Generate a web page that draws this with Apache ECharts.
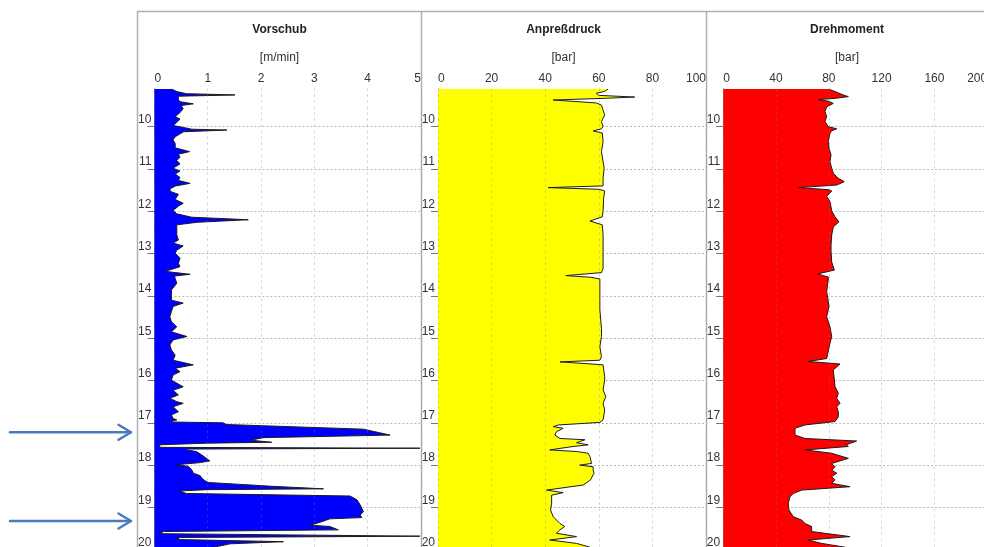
<!DOCTYPE html>
<html>
<head>
<meta charset="utf-8">
<script src="https://cdn.jsdelivr.net/npm/echarts@6/dist/echarts.min.js"></script>
<style>
html, body { margin: 0; padding: 0; background: #fff; overflow: hidden; }
#chart { width: 984px; height: 547px; }
</style>
</head>
<body>
<div id="chart"></div>
<script>
// Depth axis (m), shared by all three logs
const depthTicks = [10, 11, 12, 13, 14, 15, 16, 17, 18, 19, 20];
const depthMin = 9.1;
const depthMax = 20.2;

// Vorschub [m/min]
const vorschubTicks = [0, 1, 2, 3, 4, 5];
const vorschubDepth = [
  9.11, 9.17, 9.22, 9.25, 9.28, 9.36, 9.41, 9.46, 9.50, 9.57, 9.64, 9.70, 9.76, 9.82, 9.90, 9.97,
  10.02, 10.06, 10.08, 10.12, 10.17, 10.24, 10.31, 10.40, 10.50, 10.59, 10.65, 10.72, 10.80, 10.88, 10.98,
  11.05, 11.12, 11.20, 11.27, 11.34, 11.40, 11.47, 11.53, 11.60, 11.72, 11.81, 11.88, 11.98,
  12.06, 12.14, 12.20, 12.26, 12.32, 12.42, 12.56, 12.68, 12.75, 12.82, 12.92, 12.99,
  13.11, 13.23, 13.31, 13.42, 13.49, 13.53, 13.59, 13.70, 13.86, 13.98,
  14.10, 14.17, 14.25, 14.37, 14.49, 14.61, 14.73, 14.85, 14.96,
  15.04, 15.16, 15.28, 15.40, 15.52, 15.63, 15.71, 15.79, 15.87, 15.99,
  16.15, 16.23, 16.34, 16.42, 16.50, 16.54, 16.62, 16.70, 16.74, 16.81, 16.90, 16.93, 16.98,
  17.00, 17.04, 17.15, 17.29, 17.35, 17.41, 17.46, 17.48, 17.52, 17.58, 17.60, 17.62, 17.64, 17.68, 17.76, 17.90, 17.94, 17.99,
  18.03, 18.11, 18.19, 18.25, 18.31, 18.37, 18.41, 18.50, 18.56, 18.58, 18.61, 18.67, 18.73, 18.82, 18.94,
  19.02, 19.10, 19.18, 19.24, 19.27, 19.35, 19.42, 19.45, 19.53, 19.57, 19.62, 19.68, 19.71, 19.76, 19.81, 19.86, 19.92,
  20.00, 20.10, 20.20
];
const vorschubValue = [
  0.32, 0.42, 0.60, 1.51, 0.45, 0.45, 0.48, 0.73, 0.50, 0.54, 0.50, 0.45, 0.39, 0.48, 0.42, 0.35,
  0.55, 0.70, 1.36, 0.55, 0.48, 0.39, 0.35, 0.39, 0.39, 0.66, 0.45, 0.48, 0.42, 0.48, 0.35,
  0.48, 0.39, 0.48, 0.45, 0.67, 0.40, 0.29, 0.30, 0.45, 0.39, 0.54, 0.45, 0.35,
  0.42, 0.70, 1.76, 0.80, 0.42, 0.42, 0.42, 0.45, 0.35, 0.54, 0.42, 0.39,
  0.48, 0.45, 0.48, 0.20, 0.67, 0.38, 0.39, 0.42, 0.32, 0.32,
  0.32, 0.54, 0.35, 0.32, 0.29, 0.32, 0.42, 0.32, 0.61,
  0.35, 0.29, 0.32, 0.39, 0.35, 0.73, 0.39, 0.48, 0.35, 0.32,
  0.54, 0.35, 0.45, 0.29, 0.42, 0.54, 0.35, 0.42, 0.45, 0.32, 0.35, 0.42, 0.29,
  1.29, 1.35, 3.92, 4.42, 2.05, 1.80, 2.20, 1.00, 0.10, 0.10, 4.98, 0.60, 0.61, 0.79, 0.89, 1.04, 0.86, 0.42,
  0.64, 0.70, 0.73, 0.86, 0.89, 0.95, 1.01, 2.20, 3.17, 1.00, 0.48, 0.60, 3.67, 3.80, 3.86,
  3.89, 3.92, 3.86, 3.89, 3.29, 3.11, 2.92, 3.29, 3.45, 0.17, 0.10, 4.98, 0.42, 0.48, 2.42, 1.42, 1.20,
  0.80, 0.70, 0.70
];

// Anpreßdruck [bar]
const anpressTicks = [0, 20, 40, 60, 80, 100];
const anpressDepth = [
  9.11, 9.17, 9.21, 9.26, 9.30, 9.33, 9.37, 9.40, 9.44, 9.49, 9.61, 9.72, 9.88,
  10.00, 10.05, 10.10, 10.15, 10.35, 10.59, 10.83, 10.98,
  11.22, 11.40, 11.44, 11.48, 11.52, 11.69, 11.99,
  12.13, 12.23, 12.32, 12.56, 12.95, 13.35, 13.45, 13.52, 13.56, 13.60, 13.90,
  14.13, 14.33, 14.77, 14.96, 15.20, 15.44, 15.52, 15.56, 15.60, 15.63, 15.91, 15.99,
  16.22, 16.38, 16.54, 16.70, 16.93, 16.99,
  17.05, 17.09, 17.13, 17.21, 17.29, 17.37, 17.40, 17.47, 17.52, 17.56, 17.64, 17.68, 17.72, 17.80, 17.96,
  18.00, 18.04, 18.12, 18.19, 18.35, 18.47, 18.59, 18.65, 18.71, 18.90,
  19.06, 19.22, 19.38, 19.45, 19.53, 19.61, 19.69, 19.77, 19.85, 19.94,
  20.10, 20.20
];
const anpressValue = [
  63.5, 62.0, 59.1, 60.0, 73.4, 62.0, 43.0, 50.0, 59.1, 61.0, 61.6, 62.2, 61.0,
  61.6, 61.0, 57.9, 61.3, 61.6, 61.0, 61.6, 62.0,
  61.6, 61.6, 41.1, 60.0, 62.2, 61.8, 61.6,
  61.3, 56.7, 61.3, 61.6, 61.6, 61.6, 61.0, 47.7, 57.0, 60.4, 60.4,
  60.4, 60.4, 61.0, 61.0, 60.4, 61.0, 60.4, 45.5, 55.0, 61.6, 62.2, 62.2,
  61.6, 62.6, 61.6, 62.2, 61.6, 60.4,
  45.0, 43.0, 46.7, 44.2, 43.6, 45.5, 54.8, 51.7, 56.0, 50.4, 41.7, 52.0, 56.0, 56.7, 57.3,
  52.9, 57.9, 57.9, 58.2, 56.9, 54.2, 40.5, 46.7, 42.4, 42.4,
  42.0, 43.0, 45.5, 47.3, 45.5, 44.2, 51.7, 41.7, 51.7, 56.7,
  58.0, 57.0
];

// Drehmoment [bar]
const drehTicks = [0, 40, 80, 120, 160, 200];
const drehDepth = [
  9.11, 9.17, 9.24, 9.29, 9.33, 9.36, 9.40, 9.45, 9.53, 9.64, 9.76, 9.88,
  10.00, 10.05, 10.10, 10.16, 10.35, 10.51, 10.67, 10.83, 10.98,
  11.10, 11.22, 11.30, 11.38, 11.44, 11.49, 11.52, 11.65, 11.77, 11.99,
  12.13, 12.25, 12.37, 12.56, 12.80, 12.95,
  13.20, 13.39, 13.48, 13.56, 13.60, 13.90,
  14.13, 14.25, 14.33, 14.49, 14.73, 14.96,
  15.12, 15.36, 15.48, 15.55, 15.61, 15.75, 15.99,
  16.14, 16.30, 16.42, 16.54, 16.62, 16.74, 16.86, 16.97,
  17.05, 17.13, 17.29, 17.37, 17.43, 17.52, 17.56, 17.64, 17.72, 17.84, 17.96,
  18.04, 18.12, 18.19, 18.27, 18.35, 18.43, 18.51, 18.59, 18.67, 18.75, 18.90,
  19.06, 19.22, 19.30, 19.38, 19.45, 19.57, 19.69, 19.77, 19.85, 19.94,
  20.10, 20.20
];
const drehValue = [
  79.6, 84.7, 90.0, 94.8, 85.0, 72.0, 80.0, 83.4, 78.4, 77.1, 78.4, 77.1,
  79.6, 86.0, 82.0, 80.9, 79.6, 80.2, 81.7, 80.9, 82.2,
  83.4, 87.2, 91.7, 86.0, 56.9, 80.0, 82.2, 78.4, 80.9, 82.2,
  84.7, 87.7, 83.4, 82.2, 81.7, 81.7,
  82.2, 84.2, 71.6, 80.0, 79.6, 78.4,
  79.6, 80.2, 79.6, 78.4, 80.9, 82.2,
  80.9, 79.2, 78.4, 64.5, 88.5, 83.4, 84.2,
  84.7, 87.2, 86.0, 88.5, 86.0, 87.2, 87.2, 84.7,
  62.0, 54.4, 54.4, 62.0, 101.1, 93.0, 94.8, 62.0, 82.2, 94.8, 82.2,
  84.7, 82.2, 86.0, 82.2, 84.7, 82.2, 96.1, 59.5, 53.1, 50.6, 49.3,
  49.8, 53.1, 59.5, 62.0, 67.0, 67.0, 96.1, 64.5, 74.6, 92.3,
  85.0, 82.0
];

const FONT = '"Liberation Sans", Arial, sans-serif';

const panels = [
  { title: 'Vorschub', unit: '[m/min]', ticks: vorschubTicks, depth: vorschubDepth, value: vorschubValue,
    color: '#0000ff', left: 154.4, width: 266.6, center: 279.5 },
  { title: 'Anpreßdruck', unit: '[bar]', ticks: anpressTicks, depth: anpressDepth, value: anpressValue,
    color: '#ffff00', left: 438, width: 268, center: 563.5 },
  { title: 'Drehmoment', unit: '[bar]', ticks: drehTicks, depth: drehDepth, value: drehValue,
    color: '#ff0000', left: 723.2, width: 264, center: 847 }
];

// The plot area runs on past the bottom edge of the page, down to 20.2 m
const plotTop = 88.6;
const plotHeight = 469.6;

const grids = panels.map(p => ({
  left: p.left, top: plotTop, width: p.width, height: plotHeight,
  containLabel: false, outerBoundsMode: 'none'
}));

const xAxes = panels.map((p, i) => ({
  gridIndex: i,
  type: 'value',
  position: 'top',
  min: p.ticks[0],
  max: p.ticks[p.ticks.length - 1],
  interval: p.ticks[1] - p.ticks[0],
  z: 3,
  axisLine: { show: false },
  axisTick: { show: false },
  axisLabel: {
    fontSize: 12, color: '#333', fontFamily: FONT, margin: 4,
    alignMinLabel: 'left', alignMaxLabel: 'right'
  },
  splitLine: { show: true, lineStyle: { color: 'rgba(128,128,128,0.4)', type: [2, 4], width: 1 } }
}));

const yAxes = panels.map((p, i) => ({
  gridIndex: i,
  type: 'value',
  inverse: true,
  min: depthMin,
  max: depthMax,
  axisLine: { show: true, lineStyle: { color: '#a8a8a8', width: 1 } },
  axisTick: { show: true, customValues: depthTicks, length: 7, lineStyle: { color: '#777' } },
  axisLabel: {
    customValues: depthTicks, fontSize: 12, color: '#333', fontFamily: FONT,
    margin: 3, align: 'right', verticalAlign: 'bottom', padding: [0, 0, 1, 0]
  },
  splitLine: { show: true, lineStyle: { color: '#b8b8b8', type: [2, 2], width: 1 } }
}));

// Each log is one filled profile: polygon from the zero line out to the measured values,
// with a dark outline along the measured edge.
const series = panels.map((p, i) => {
  const pts = p.depth.map((d, k) => [p.value[k], d]);
  return {
    type: 'custom',
    name: p.title,
    xAxisIndex: i,
    yAxisIndex: i,
    clip: true,
    silent: true,
    z: 2,
    encode: { x: 0, y: 1 },
    data: pts,
    renderItem: function (params, api) {
      if (params.dataIndex !== 0) return null;
      const edge = pts.map(pt => api.coord(pt));
      const top = api.coord([0, pts[0][1]]);
      const bottom = api.coord([0, pts[pts.length - 1][1]]);
      return {
        type: 'group',
        children: [
          { type: 'polygon', shape: { points: [top].concat(edge, [bottom]) }, style: { fill: p.color } },
          { type: 'polyline', shape: { points: edge }, style: { fill: null, stroke: '#1c1c1c', lineWidth: 1 } }
        ]
      };
    }
  };
});

// Panel frames, headings and the two marker arrows
const frameColor = '#b0b0b0';
const graphic = [
  { type: 'line', shape: { x1: 137, y1: 11.5, x2: 984, y2: 11.5 }, style: { stroke: frameColor, lineWidth: 1.5 } },
  { type: 'line', shape: { x1: 137.5, y1: 11, x2: 137.5, y2: 547 }, style: { stroke: frameColor, lineWidth: 1.5 } },
  { type: 'line', shape: { x1: 421.5, y1: 11, x2: 421.5, y2: 547 }, style: { stroke: frameColor, lineWidth: 1.5 } },
  { type: 'line', shape: { x1: 706.5, y1: 11, x2: 706.5, y2: 547 }, style: { stroke: frameColor, lineWidth: 1.5 } }
];
panels.forEach(p => {
  graphic.push({
    type: 'text', x: p.center, y: 30,
    style: { text: p.title, fontSize: 12, fontWeight: 'bold', fontFamily: FONT, fill: '#222', align: 'center', verticalAlign: 'middle' }
  });
  graphic.push({
    type: 'text', x: p.center, y: 58,
    style: { text: p.unit, fontSize: 12, fontFamily: FONT, fill: '#333', align: 'center', verticalAlign: 'middle' }
  });
});
const arrowColor = '#4b7bbf';
[432.3, 521].forEach(y => {
  graphic.push({ type: 'polyline', shape: { points: [[10, y], [130.5, y]] },
    style: { stroke: arrowColor, lineWidth: 2.5, fill: null, lineCap: 'round' } });
  graphic.push({ type: 'polyline', shape: { points: [[118.5, y - 7.5], [131, y], [118.5, y + 7.5]] },
    style: { stroke: arrowColor, lineWidth: 2.5, fill: null, lineCap: 'round', lineJoin: 'round' } });
});

const chart = echarts.init(document.getElementById('chart'), null, { renderer: 'canvas' });
chart.setOption({
  animation: false,
  backgroundColor: '#ffffff',
  grid: grids,
  xAxis: xAxes,
  yAxis: yAxes,
  series: series,
  graphic: graphic
});
</script>
</body>
</html>
